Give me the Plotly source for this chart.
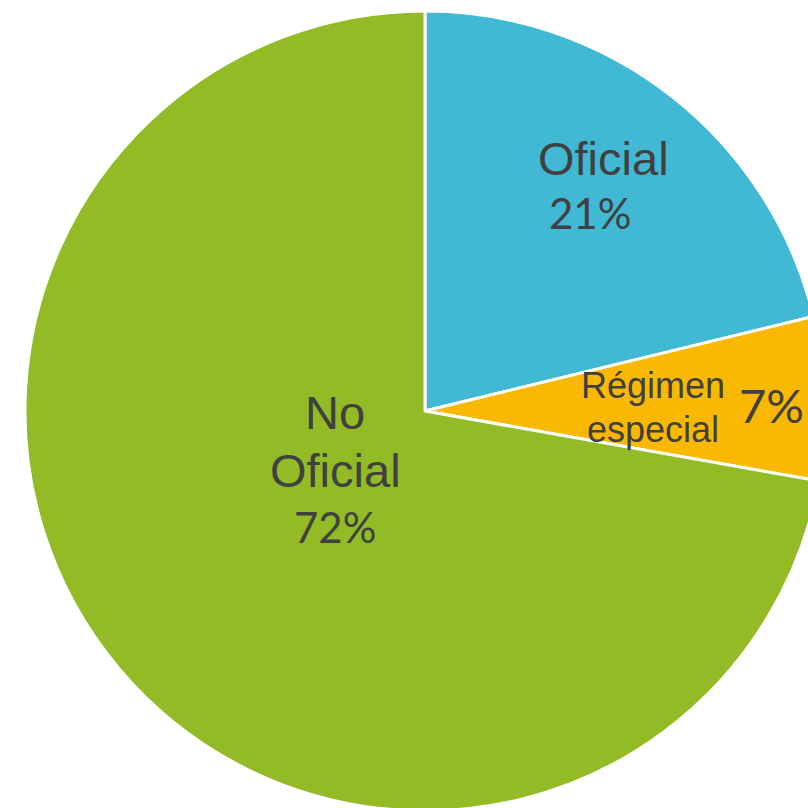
import plotly.graph_objects as go

categories = ["Oficial", "Régimen especial", "No Oficial"]
values = [21.2, 6.6, 72.2]
colors = ["#41B8D4", "#FBB800", "#92BB25"]

W, H = 850, 812

fig = go.Figure(go.Pie(
    labels=categories,
    values=values,
    sort=False,
    direction="clockwise",
    rotation=0,
    marker=dict(colors=colors, line=dict(color="white", width=3)),
    textinfo="none",
    hoverinfo="label+percent",
    domain=dict(x=[25 / W, 825 / W], y=[1 - 811 / H, 1 - 11 / H]),
    showlegend=False,
))

pct = [f"{round(v)}%" for v in values]
txt_color = "#404040"
label_font = "Liberation Sans, Arial, sans-serif"
num_font = "Lato, Open Sans, sans-serif"


def ann(text, px, py, size, family):
    fig.add_annotation(
        text=text, x=px / W, y=1 - py / H, xref="paper", yref="paper",
        showarrow=False, xanchor="center", yanchor="middle",
        font=dict(size=size, family=family, color=txt_color),
    )


# Oficial
ann(categories[0], 603, 158, 47, label_font)
ann(pct[0], 590, 213, 42, num_font)
# Régimen especial
ann("Régimen", 653, 385, 36, label_font)
ann("especial", 653, 430, 36, label_font)
ann(pct[1], 771, 405, 47, num_font)
# No Oficial
ann("No", 335, 413, 47, label_font)
ann("Oficial", 335, 470, 47, label_font)
ann(pct[2], 335, 527, 42, num_font)

fig.update_layout(
    width=W, height=H,
    margin=dict(l=0, r=0, t=0, b=0),
    paper_bgcolor="white",
    plot_bgcolor="white",
)

fig.write_html(
    "out.html",
    config={"displayModeBar": False},
    post_script="document.body.style.margin='0';document.body.style.overflow='hidden';document.documentElement.style.overflow='hidden';",
)
